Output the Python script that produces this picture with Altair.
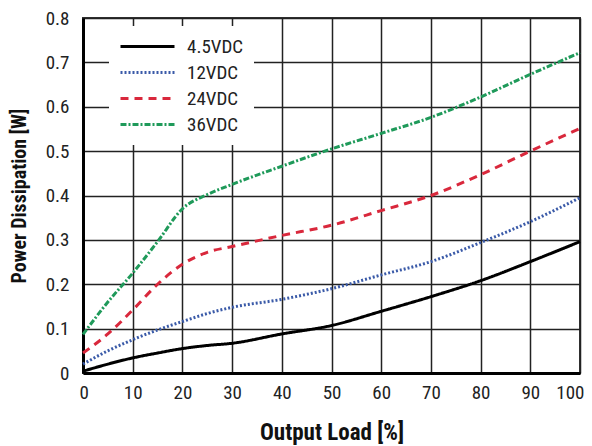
import altair as alt
import pandas as pd

load = [0, 5, 10, 15, 20, 25, 30, 40, 50, 60, 70, 80, 90, 100]
v_4_5 = [0.004, 0.020, 0.034, 0.045, 0.055, 0.062, 0.067, 0.088, 0.107, 0.139, 0.172, 0.208, 0.251, 0.296]
v_12 = [0.020, 0.050, 0.075, 0.097, 0.116, 0.134, 0.148, 0.166, 0.190, 0.221, 0.251, 0.294, 0.341, 0.395]
v_24 = [0.045, 0.088, 0.142, 0.200, 0.245, 0.272, 0.285, 0.310, 0.333, 0.366, 0.400, 0.447, 0.500, 0.551]
v_36 = [0.087, 0.160, 0.225, 0.296, 0.370, 0.402, 0.425, 0.466, 0.505, 0.540, 0.576, 0.622, 0.673, 0.722]

series = ["4.5VDC", "12VDC", "24VDC", "36VDC"]
colors = ["#000000", "#3a5aa8", "#d9283c", "#1f9a5a"]
dashes = [[1, 0], [2, 2], [8, 6], [6, 2, 2, 2]]

rows = []
for name, vals in zip(series, [v_4_5, v_12, v_24, v_36]):
    for x, y in zip(load, vals):
        rows.append({"load": x, "pd": y, "series": name})
df = pd.DataFrame(rows)

FONT = "Liberation Sans Narrow, Arial Narrow, Roboto Condensed, DejaVu Sans Condensed, Roboto, sans-serif"

legend = alt.Legend(
    title=None,
    orient="none",
    legendX=26,
    legendY=8,
    fillColor="white",
    padding=10,
    symbolType="M-1,0H5",
    symbolSize=324,
    symbolStrokeWidth=3,
    labelFont=FONT,
    labelFontSize=19,
    labelColor="#222",
    labelOffset=47,
    rowPadding=5,
)

chart = alt.Chart(df).mark_line(strokeWidth=3, interpolate="monotone").encode(
    x=alt.X(
        "load:Q",
        scale=alt.Scale(domain=[0, 100], nice=False),
        axis=alt.Axis(
            values=list(range(0, 101, 10)),
            title="Output Load [%]",
            grid=True,
            labelFlush=True,
            labelFlushOffset=4,
            labelPadding=10,
            labelFontSize=19,
            titleFontSize=23,
            titleY=66,
            titleBaseline="alphabetic",
        ),
    ),
    y=alt.Y(
        "pd:Q",
        scale=alt.Scale(domain=[0, 0.8], nice=False),
        axis=alt.Axis(
            values=[0, 0.1, 0.2, 0.3, 0.4, 0.5, 0.6, 0.7, 0.8],
            format=".1~f",
            title="Power Dissipation [W]",
            grid=True,
            labelFlush=False,
            labelPadding=14,
            labelFontSize=19,
            titleFontSize=20,
            titleX=-64,
            titleBaseline="middle",
        ),
    ),
    color=alt.Color("series:N", scale=alt.Scale(domain=series, range=colors), legend=legend),
    strokeDash=alt.StrokeDash("series:N", scale=alt.Scale(domain=series, range=dashes), legend=legend),
).properties(
    width=497,
    height=355,
    autosize=alt.AutoSizeParams(type="none"),
    padding={"left": 75, "top": 10, "right": 4, "bottom": 73},
).configure_view(
    stroke="#333",
    strokeWidth=2,
).configure_axis(
    gridColor="#222",
    gridWidth=1.5,
    gridOpacity=1,
    domainColor="#000",
    domainWidth=3,
    tickSize=0,
    tickColor="#000",
    labelFont=FONT,
    labelColor="#222",
    titleFont=FONT,
    titleFontWeight="bold",
    titleColor="#111",
)

chart.save("out.html", embed_options={"renderer": "svg", "actions": False})
